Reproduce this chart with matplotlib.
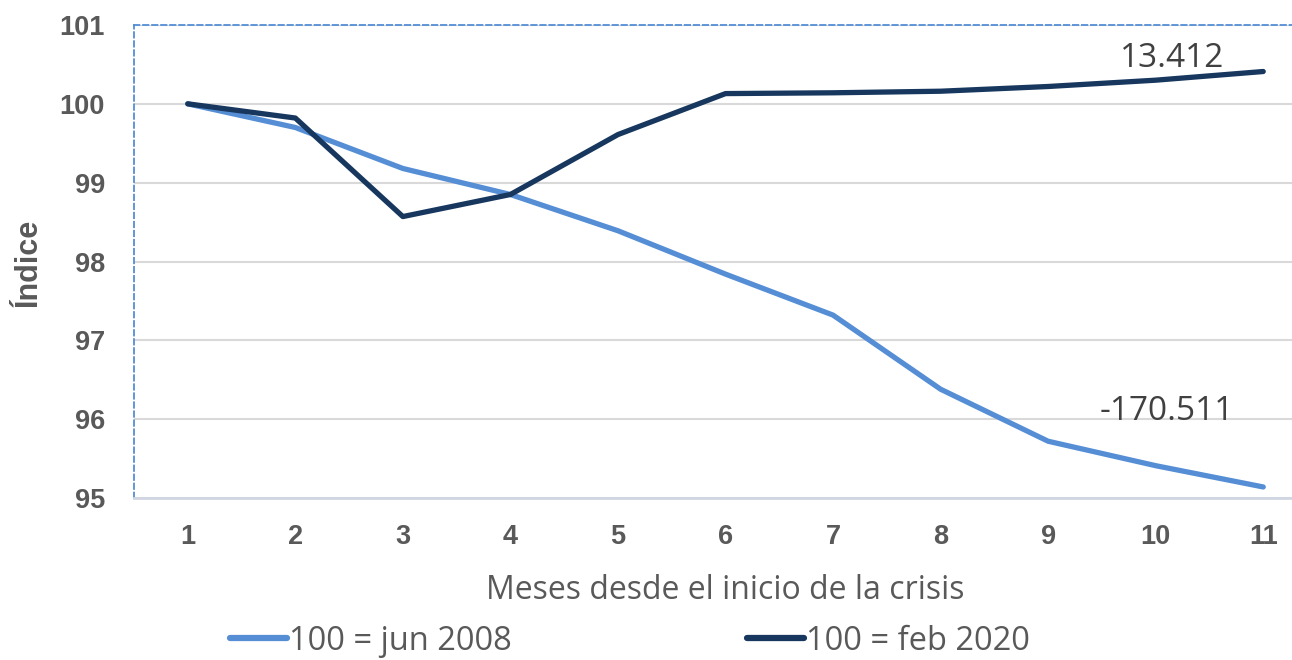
import matplotlib
matplotlib.use("Agg")
import matplotlib.pyplot as plt
from matplotlib.lines import Line2D

meses = [1, 2, 3, 4, 5, 6, 7, 8, 9, 10, 11]
jun2008 = [100.0, 99.70, 99.18, 98.85, 98.39, 97.84, 97.32, 96.38, 95.72, 95.41, 95.14]
feb2020 = [100.0, 99.82, 98.57, 98.85, 99.61, 100.13, 100.14, 100.16, 100.22, 100.30, 100.41]
yticks = [95, 96, 97, 98, 99, 100, 101]
label_jun = "100 = jun 2008"
label_feb = "100 = feb 2020"
ann_feb = "13.412"
ann_jun = "-170.511"

c_light = "#558ED5"
c_dark = "#17375E"
grey = "#595959"

fig = plt.figure(figsize=(12.92, 6.60), dpi=100)
W, H = 1292, 660
ax = fig.add_axes([134 / W, 1 - 498 / H, (1317 - 134) / W, (498 - 25) / H])

ax.plot(meses, jun2008, color=c_light, lw=3.8, solid_capstyle="round", solid_joinstyle="round", zorder=3)
ax.plot(meses, feb2020, color=c_dark, lw=3.8, solid_capstyle="round", solid_joinstyle="round", zorder=4)

ax.set_xlim(0.5, 11.5)
ax.set_ylim(95, 101)
ax.set_yticks(yticks)
ax.set_xticks(meses)
ax.yaxis.grid(True, color="#d9d9d9", lw=1.5)
ax.set_axisbelow(True)
ax.tick_params(length=0, labelsize=19.5, labelcolor=grey)
ax.tick_params(axis="x", pad=19)
ax.tick_params(axis="y", pad=21)
for lab in ax.get_xticklabels() + ax.get_yticklabels():
    lab.set_fontweight("bold")
    lab.set_family("Liberation Sans")

for s in ["left", "top"]:
    ax.spines[s].set_color(c_light)
    ax.spines[s].set_linestyle((0, (3, 2)))
    ax.spines[s].set_linewidth(1.3)
ax.spines["bottom"].set_color("#d0d6e2")
ax.spines["bottom"].set_linewidth(2)
ax.spines["right"].set_visible(False)

ax.set_xlabel("Meses desde el inicio de la crisis", fontsize=23, color=grey, family="Open Sans", labelpad=17)
fig.text(28 / W, 1 - 263 / H, "Índice", rotation=90, fontsize=22, fontweight="bold",
         color=grey, family="Liberation Sans", ha="center", va="center")

ax.annotate(ann_feb, xy=(10.15, 100.58), fontsize=24, color="#404040", family="Open Sans", ha="center", va="center")
ax.annotate(ann_jun, xy=(10.10, 96.10), fontsize=24, color="#404040", family="Open Sans", ha="center", va="center")

handles = [Line2D([], [], color=c_light, lw=4.5, solid_capstyle="round"),
           Line2D([], [], color=c_dark, lw=4.5, solid_capstyle="round")]
leg = fig.legend(handles, [label_jun, label_feb], loc="center", bbox_to_anchor=(630 / W, 1 - 641 / H),
                 ncol=2, frameon=False, handlelength=1.75, handletextpad=0.05, columnspacing=7.2,
                 prop={"family": "Open Sans", "size": 23.5})
for t in leg.get_texts():
    t.set_color(grey)

fig.savefig("out.png", dpi=100)
